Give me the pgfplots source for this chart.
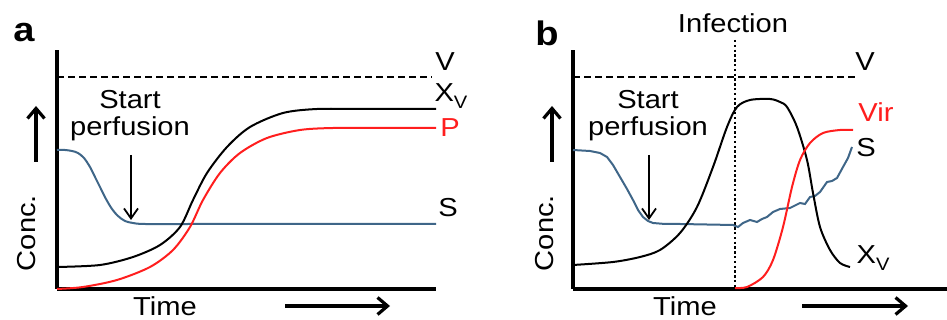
\documentclass[border=0pt]{standalone}
\usepackage{fontspec}
\setmainfont[FakeStretch=1.12]{Liberation Sans}
\usepackage{pgfplots}
\pgfplotsset{compat=1.18}
\usetikzlibrary{arrows.meta}
\definecolor{sblue}{HTML}{3F6688}
\definecolor{pred}{HTML}{FF1E1E}
\pgfplotsset{
  panel/.style={
    scale only axis, clip=false, anchor=south west,
    axis lines=left, axis line style={-, line width=1.8pt},
    xtick=\empty, ytick=\empty, ymin=31, ymax=270,
    height=119.5pt,
  },
}
\newcommand{\XV}{X\raisebox{-0.45ex}{\fontsize{9}{10}\selectfont V}}
\tikzset{lbl/.style={font=\fontsize{13}{14.5}\selectfont},
         arr/.style={line width=1.6pt, -{Straight Barb[length=5pt,width=8.5pt]}},
         darr/.style={line width=0.9pt, -{Straight Barb[length=5pt,width=7pt]}}}
\begin{document}
\begin{tikzpicture}
\useasboundingbox (0,0) rectangle (473.5pt,160pt);
% ---------- panel a ----------
\begin{axis}[panel, at={(28.5pt,15.5pt)}, xmin=57, xmax=436, width=189.5pt]
\addplot[black, line width=1pt, dash pattern=on 3.5pt off 2pt] coordinates {(57,243) (432,243)};
\addplot[sblue, line width=1pt, smooth, tension=0.5] coordinates {
(57,170) (65,170) (72,169) (78,167) (84,162) (90,153) (95,143) (100,133) (106,121) (112,111) (118,104) (125,99) (133,97) (145,96) (200,96) (436,96)};
\addplot[black, line width=1pt, smooth, tension=0.5] coordinates {
(57,53) (100,55) (133,63) (160,75) (180,93) (193,120) (207,147) (227,173) (250,193) (283,207) (317,211) (360,211) (436,211)};
\addplot[pred, line width=1pt, smooth, tension=0.5] coordinates {
(57,31) (83,33) (117,40) (150,53) (173,70) (190,93) (203,120) (220,147) (240,167) (267,182) (300,190) (333,192) (380,192) (436,192)};
\node[font=\fontsize{17}{18}\bfseries\selectfont] at (axis cs:24,287) {a};
\node[lbl] at (axis cs:445,258) {V};
\node[lbl] at (axis cs:451,224) {\XV};
\node[lbl, pred] at (axis cs:450,192) {P};
\node[lbl] at (axis cs:448,112) {S};
\node[lbl, align=center, inner sep=0pt] at (axis cs:130,204) {Start\\[-1pt]perfusion};
\draw[darr] (axis cs:131,165) -- (axis cs:131,100);
\draw[arr] (axis cs:36,158) -- (axis cs:36,214);
\node[lbl, rotate=90] at (axis cs:27,87) {Conc.};
\node[lbl] at (axis cs:165,14) {Time};
\draw[arr] (axis cs:285,14) -- (axis cs:390,14);
\end{axis}
% ---------- panel b ----------
\begin{axis}[panel, at={(286.5pt,15.5pt)}, xmin=573, xmax=947, width=187pt]
\addplot[black, line width=1pt, dash pattern=on 3.5pt off 2pt] coordinates {(573,243) (857,243)};
\addplot[black, line width=0.8pt, dash pattern=on 1.2pt off 1.2pt] coordinates {(735,280) (735,31)};
\addplot[sblue, line width=1pt] coordinates {
(573,170) (590,169) (600,167) (607,163) (613,155) (620,143) (627,131) (633,120) (638,110) (643,103) (648,99) (653,97) (665,96) (680,96) (733,95) (738,93) (743,97) (750,100) (757,98) (762,101) (767,103) (773,108) (780,111) (790,112) (800,117) (805,116) (810,123) (815,124) (820,128) (827,138) (832,139) (837,142) (843,153) (848,162) (852,173)};
\addplot[black, line width=1pt, smooth, tension=0.5] coordinates {
(573,55) (613,58) (640,63) (660,70) (680,87) (697,113) (713,153) (727,193) (737,213) (750,220) (770,221) (780,218) (787,213) (797,193) (807,160) (813,127) (820,93) (830,70) (840,57) (850,53)};
\addplot[pred, line width=1pt, smooth, tension=0.5] coordinates {
(735,32) (747,33) (763,43) (773,60) (783,93) (792,133) (800,160) (810,177) (823,187) (840,190) (853,190)};
\node[font=\fontsize{17}{18}\bfseries\selectfont] at (axis cs:547,287) {b};
\node[lbl] at (axis cs:733,297) {Infection};
\node[lbl] at (axis cs:865,258) {V};
\node[lbl, pred] at (axis cs:876,208) {Vir};
\node[lbl] at (axis cs:866,172) {S};
\node[lbl] at (axis cs:873,62) {\XV};
\node[lbl, align=center, inner sep=0pt] at (axis cs:648,204) {Start\\[-1pt]perfusion};
\draw[darr] (axis cs:649,165) -- (axis cs:649,100);
\draw[arr] (axis cs:552,158) -- (axis cs:552,214);
\node[lbl, rotate=90] at (axis cs:545,87) {Conc.};
\node[lbl] at (axis cs:685,14) {Time};
\draw[arr] (axis cs:802,14) -- (axis cs:908,14);
\end{axis}
\end{tikzpicture}
\end{document}
